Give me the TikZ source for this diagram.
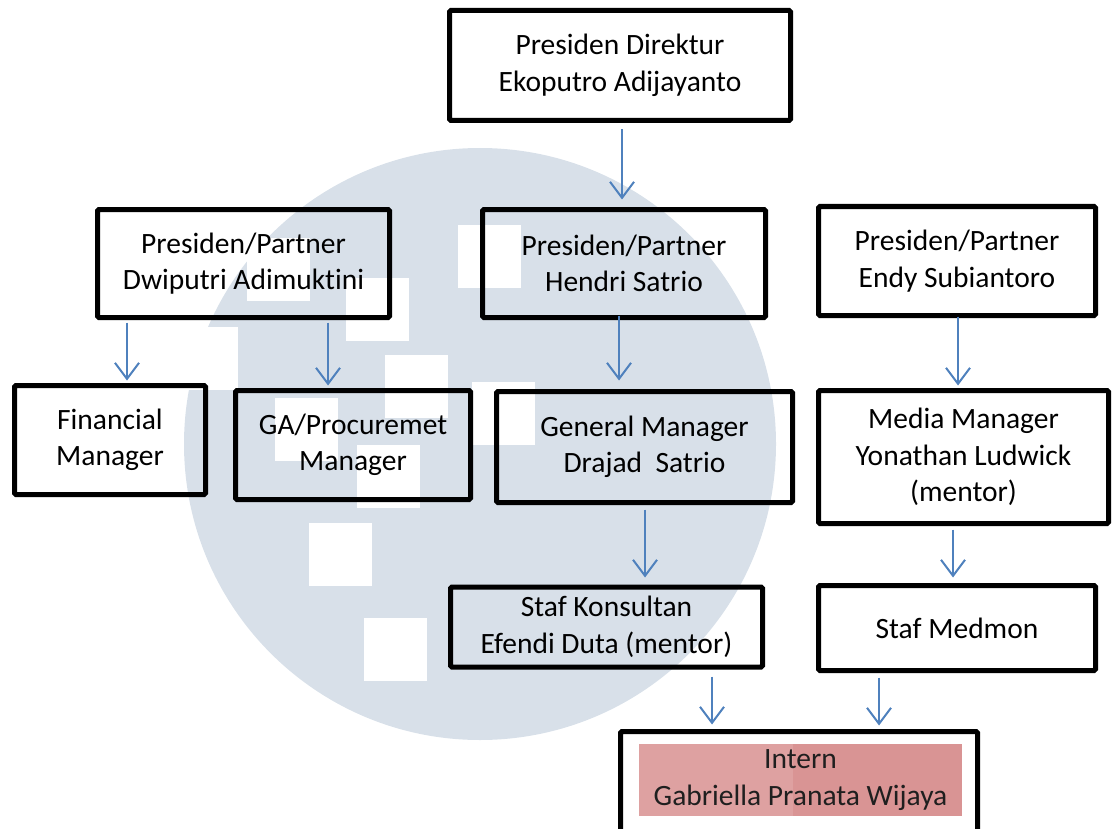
\documentclass[tikz,border=0pt]{standalone}
\usepackage{fontspec}
\setmainfont{Carlito}[Ligatures={NoCommon}]
\usetikzlibrary{arrows.meta}
\definecolor{markgray}{RGB}{216,224,233}
\definecolor{linkblue}{RGB}{79,129,189}
\definecolor{pinklight}{RGB}{222,161,161}
\definecolor{pinkdark}{RGB}{217,148,148}
\begin{document}
\begin{tikzpicture}[x=1pt,y=-1pt,
  orgbox/.style={draw=black, line width=5pt, rounded corners=1.5pt,
    align=center, inner sep=0pt, font=\fontsize{29.5}{36.5}\selectfont},
  arr/.style={draw=linkblue, line width=2pt,
    -{Straight Barb[length=16pt,width=24pt,line width=2pt]}}]
\useasboundingbox (0,0) rectangle (1113,829);
\clip (0,0) rectangle (1113,829);

% background mark: disc with square cut-outs
\fill[markgray] (480,444) circle (296);
\foreach \x/\y in {175/327, 247/238, 346/278, 458/225, 385/355, 472/382,
                   275/398, 357/445, 309/523, 364/618}
  \fill[white] (\x,\y) rectangle ++(63,63);

% boxes
\node[orgbox, minimum width=341pt, minimum height=110pt] (top) at (620,65.5)
  {Presiden Direktur\\Ekoputro Adijayanto};
\node[orgbox, minimum width=292pt, minimum height=108pt] (dwi) at (243.5,263.5)
  {Presiden/Partner\\Dwiputri Adimuktini};
\node[orgbox, minimum width=283pt, minimum height=108pt] (hendri) at (624,263.5)
  {Presiden/Partner\\Hendri Satrio};
\node[orgbox, minimum width=277pt, minimum height=109pt] (endy) at (957,261)
  {Presiden/Partner\\Endy Subiantoro};
\node[orgbox, minimum width=191pt, minimum height=109pt] (fin) at (110,440)
  {Financial\\Manager};
\node[orgbox, minimum width=235pt, minimum height=109pt] (ga) at (353,445)
  {GA/Procuremet\\Manager};
\node[orgbox, minimum width=296pt, minimum height=111pt] (gm) at (644.5,447)
  {General Manager\\Drajad\ \ Satrio};
\node[orgbox, minimum width=290pt, minimum height=133pt] (media) at (963.5,457)
  {Media Manager\\Yonathan Ludwick\\(mentor)};
\node[orgbox, minimum width=312pt, minimum height=80pt] (sk) at (606.5,627)
  {Staf Konsultan\\Efendi Duta (mentor)};
\node[orgbox, minimum width=277pt, minimum height=85pt] (medmon) at (957,628)
  {Staf Medmon};
\node[orgbox, minimum width=357pt, minimum height=160pt] (internbox) at (799,811.5) {};

% highlighted intern label
\fill[pinklight] (639,744) rectangle (793,816);
\fill[pinkdark] (793,744) rectangle (962,816);
\node[align=center, inner sep=0pt, font=\fontsize{29.5}{36.5}\selectfont,
  text=black!88] (intern) at (800.5,780) {Intern\\Gabriella Pranata Wijaya};

% reporting lines
\draw[arr] ([xshift=2pt,yshift=-6.5pt]top.south) -- ([xshift=-2pt,yshift=7.5pt]hendri.north);
\draw[arr] ([xshift=-5pt,yshift=4.5pt]hendri.south) -- ([xshift=-25.5pt,yshift=8.5pt]gm.north);
\draw[arr] ([xshift=-116.5pt,yshift=-2.5pt]dwi.south) -- ([xshift=17pt,yshift=2.5pt]fin.north);
\draw[arr] ([xshift=84.5pt,yshift=-2.5pt]dwi.south) -- ([xshift=-25pt,yshift=2.5pt]ga.north);
\draw[arr] ([xshift=0.5pt,yshift=-4.5pt]gm.south) -- ([xshift=38.5pt,yshift=7pt]sk.north);
\draw[arr] ([xshift=1pt,yshift=1.5pt]endy.south) -- ([xshift=-5.5pt,yshift=2.5pt]media.north);
\draw[arr] ([xshift=-10.5pt,yshift=-3.5pt]media.south) -- ([xshift=-4pt,yshift=5.5pt]medmon.north);
\draw[arr] ([xshift=105.5pt,yshift=-7pt]sk.south) -- ([xshift=-87pt,yshift=4.5pt]internbox.north);
\draw[arr] ([xshift=-78pt,yshift=-4.5pt]medmon.south) -- ([xshift=80pt,yshift=3.5pt]internbox.north);
\end{tikzpicture}
\end{document}
